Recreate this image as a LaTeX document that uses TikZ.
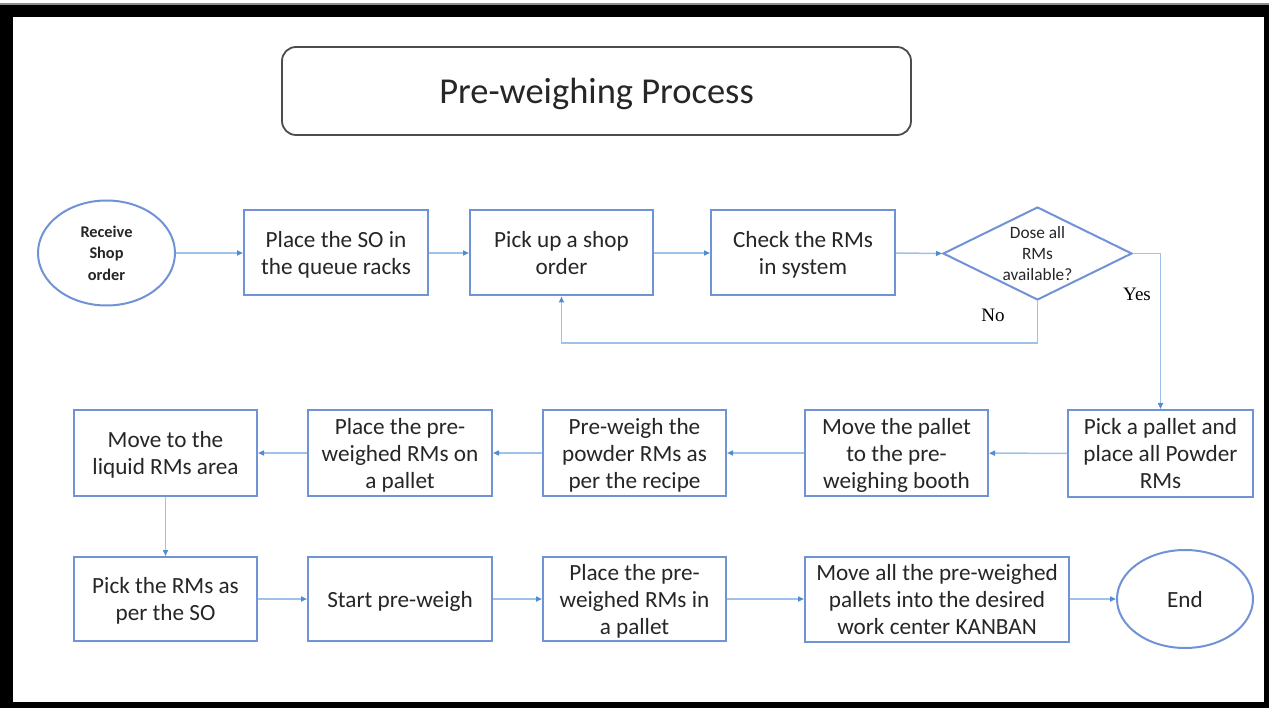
\documentclass[tikz,border=0pt]{standalone}
\usepackage{fontspec}
\setmainfont{Carlito}
\newfontfamily\timesf{Liberation Serif}
\usetikzlibrary{arrows.meta,shapes.geometric}

\definecolor{boxblue}{RGB}{112,146,214}
\definecolor{lineblue}{RGB}{160,194,232}
\definecolor{tipblue}{RGB}{80,140,210}
\definecolor{inktext}{RGB}{38,38,38}

\tikzset{
  stepbox/.style={draw=boxblue, line width=2pt, fill=white, inner sep=0pt,
    minimum width=184pt, minimum height=85pt, align=center, text=inktext,
    text depth=0pt, font=\fontsize{23.2}{27}\selectfont},
  terminal/.style={ellipse, draw=boxblue, line width=2pt, inner sep=0pt,
    align=center, text=inktext},
  decision/.style={diamond, draw=boxblue, line width=2pt, inner sep=0pt},
  conn/.style={draw=lineblue, line width=1.5pt,
    -{Triangle[length=6pt,width=5pt,color=tipblue]}},
  branchlabel/.style={font=\timesf\fontsize{19}{22}\selectfont, text=black}
}

\begin{document}
\begin{tikzpicture}[x=1pt,y=-1pt]
  \useasboundingbox (0,0) rectangle (1269,708);
  % outer frame, one band per side
  \fill[white] (0,0) rectangle (1269,708);
  \fill[black!45] (0,3) rectangle (1269,5);
  \fill[black] (0,5) rectangle (1269,17);
  \fill[black] (0,5) rectangle (13,708);
  \fill[black] (1264,5) rectangle (1269,708);
  \fill[black] (0,702) rectangle (1269,708);

  % title
  \node[draw=black!70, line width=1.8pt, rounded corners=14pt, inner sep=0pt,
        minimum width=629pt, minimum height=88pt, text=inktext, text depth=0pt,
        font=\fontsize{36.5}{40}\selectfont] (title) at (596.5,91) {Pre-weighing Process};

  % first row
  \node[terminal, minimum width=137pt, minimum height=105pt, text depth=0pt,
        font=\bfseries\fontsize{16.3}{21.5}\selectfont] (rcv) at (106.5,253) {Receive\\Shop\\order};
  \node[stepbox] (so) at (336,253) {Place the SO in\\the queue racks};
  \node[stepbox, minimum width=183pt] (pick) at (561.5,253) {Pick up a shop\\order};
  \node[stepbox] (check) at (803,253) {Check the RMs\\in system};
  \node[decision, minimum width=189pt, minimum height=93pt] (dia) at (1037.5,253.5) {};
  \node[align=center, text=inktext, text depth=0pt, font=\fontsize{17.3}{21}\selectfont] (diatext) at (dia.center) {Dose all\\RMs\\available?};

  % second row
  \node[stepbox, minimum width=185pt, minimum height=87pt] (ppal) at (1160.5,453.5) {Pick a pallet and\\place all Powder\\RMs};
  \node[stepbox, minimum width=183pt] (mvp) at (896.5,453) {Move the pallet\\to the pre-\\weighing booth};
  \node[stepbox, minimum width=183pt] (pw) at (634.5,453) {Pre-weigh the\\powder RMs as\\per the recipe};
  \node[stepbox] (plc) at (400,453) {Place the pre-\\weighed RMs on\\a pallet};
  \node[stepbox, minimum width=183pt] (liq) at (165.5,453) {Move to the\\liquid RMs area};

  % third row
  \node[stepbox, minimum width=183pt, minimum height=84pt] (pkr) at (165.5,599) {Pick the RMs as\\per the SO};
  \node[stepbox, minimum height=84pt] (spw) at (400,599) {Start pre-weigh};
  \node[stepbox, minimum width=183pt, minimum height=84pt] (plc2) at (634.5,599) {Place the pre-\\weighed RMs in\\a pallet};
  \node[stepbox, minimum width=264pt, minimum height=85pt] (mva) at (937,599) {Move all the pre-weighed\\pallets into the desired\\work center KANBAN};
  \node[terminal, minimum width=136pt, minimum height=98pt, text depth=0pt,
        font=\fontsize{23.2}{27}\selectfont] (end) at (1185,599) {End};

  % connectors, first row
  \draw[conn] (rcv) -- (so);
  \draw[conn] (so) -- (pick);
  \draw[conn] (pick) -- (check);
  \draw[conn] (check.east) -- (dia.west);
  \draw[conn] (dia.east) -| (ppal.north);
  \coordinate (nocorner) at (1037.5,343);
  \draw[conn] (dia.south) -- (nocorner) -| (pick.south);

  % connectors, second row
  \draw[conn] (ppal) -- (mvp);
  \draw[conn] (mvp) -- (pw);
  \draw[conn] (pw) -- (plc);
  \draw[conn] (plc) -- (liq);
  \draw[conn] (liq) -- (pkr);

  % connectors, third row
  \draw[conn] (pkr) -- (spw);
  \draw[conn] (spw) -- (plc2);
  \draw[conn] (plc2) -- (mva);
  \draw[conn] (mva) -- (end);

  % branch labels
  \node[branchlabel] (yes) at (1137,294) {Yes};
  \node[branchlabel] (no) at (993,315) {No};
\end{tikzpicture}
\end{document}
